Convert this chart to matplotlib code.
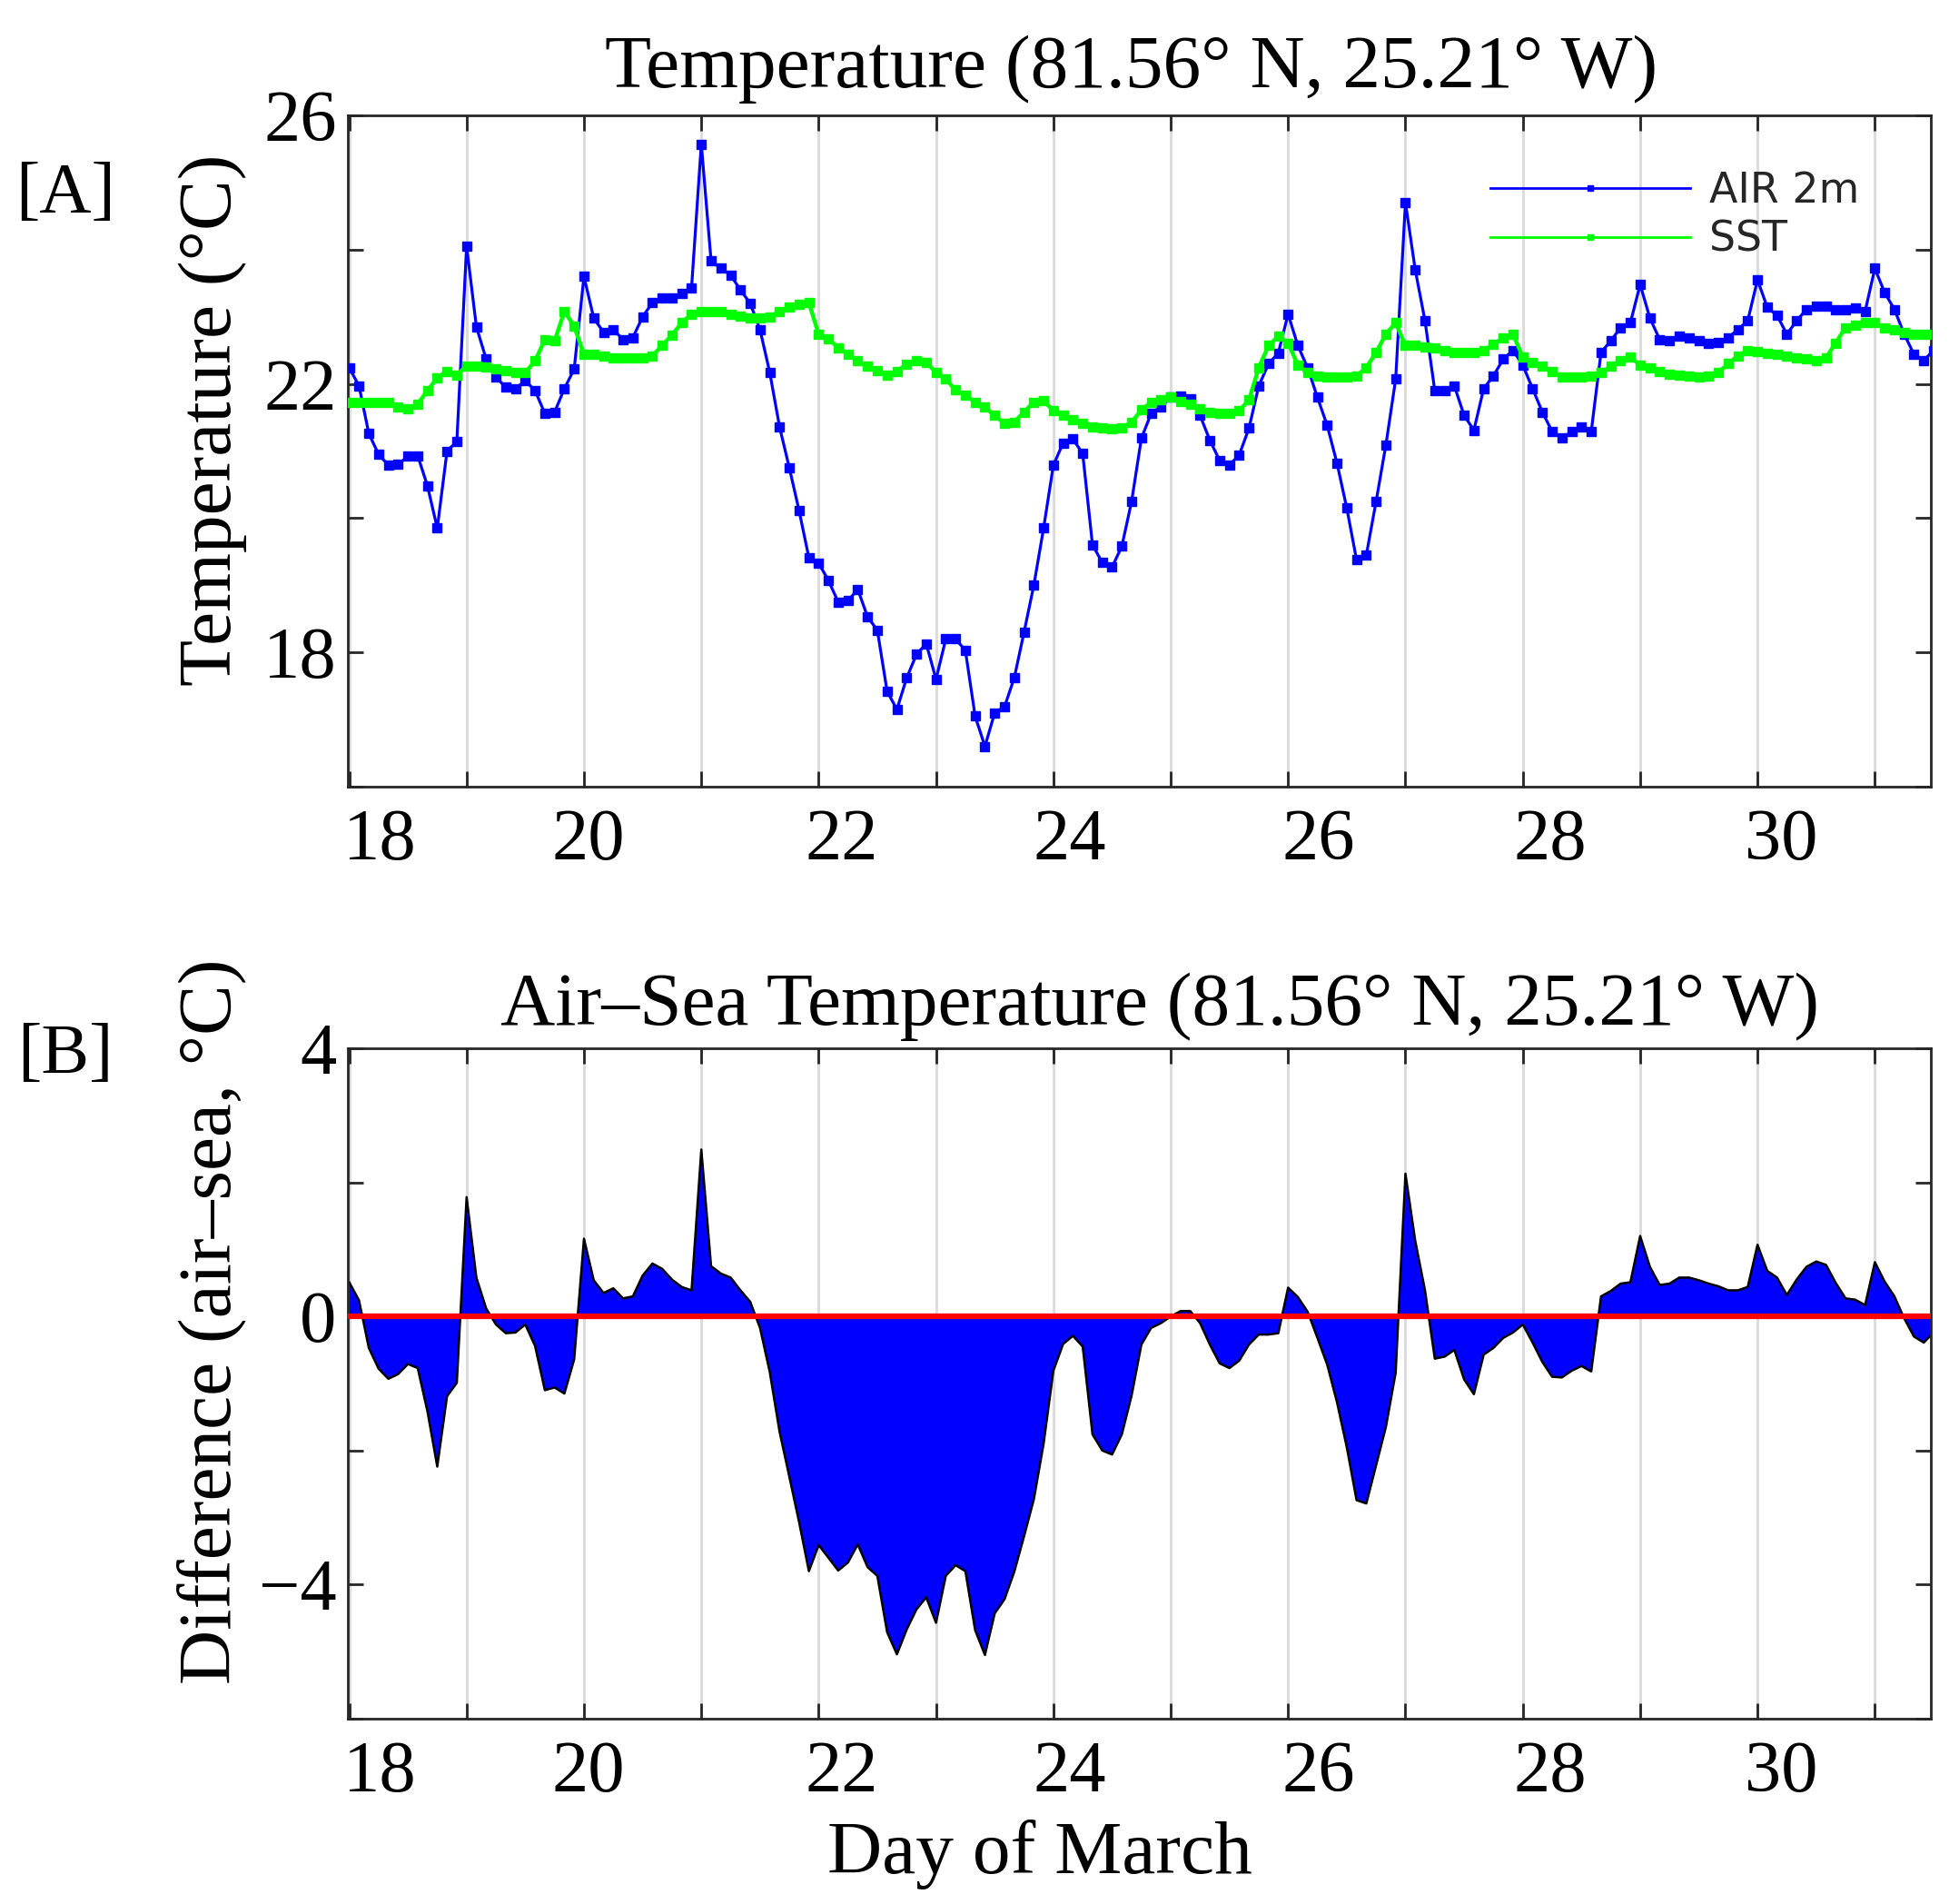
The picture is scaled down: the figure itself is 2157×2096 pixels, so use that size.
import matplotlib
matplotlib.use('Agg')

import matplotlib.pyplot as plt
import matplotlib.transforms as mtransforms
import numpy as np

plt.rcParams['font.family'] = ['Liberation Serif', 'DejaVu Serif']

# Two-hourly samples, starting at day 18.0 of March.
start_day = 18.0
step_days = 2.0 / 24.0

air_2m = [
    22.24, 21.97, 21.26, 20.95, 20.79, 20.80, 20.92, 20.93, 20.48, 19.85, 21.00, 21.14,  # 18
    24.05, 22.85, 22.37, 22.10, 21.95, 21.93, 22.05, 21.90, 21.56, 21.58, 21.93, 22.22,  # 19
    23.60, 22.98, 22.77, 22.81, 22.66, 22.69, 23.00, 23.21, 23.28, 23.28, 23.35, 23.43,  # 20
    25.57, 23.83, 23.72, 23.62, 23.40, 23.20, 22.81, 22.17, 21.36, 20.75, 20.11, 19.41,  # 21
    19.33, 19.07, 18.75, 18.77, 18.94, 18.53, 18.33, 17.42, 17.15, 17.62, 17.97, 18.13,  # 22
    17.60, 18.20, 18.20, 18.03, 17.05, 16.60, 17.10, 17.19, 17.62, 18.30, 19.00, 19.85,  # 23
    20.79, 21.12, 21.18, 20.96, 19.60, 19.34, 19.27, 19.58, 20.25, 21.19, 21.56, 21.66,  # 24
    21.80, 21.82, 21.78, 21.53, 21.16, 20.86, 20.79, 20.94, 21.34, 21.97, 22.30, 22.46,  # 25
    23.04, 22.57, 22.24, 21.80, 21.38, 20.82, 20.15, 19.38, 19.45, 20.25, 21.09, 22.07,  # 26
    24.70, 23.70, 22.94, 21.90, 21.90, 21.97, 21.53, 21.31, 21.93, 22.12, 22.37, 22.50,  # 27
    22.28, 21.93, 21.58, 21.29, 21.19, 21.29, 21.36, 21.29, 22.47, 22.64, 22.84, 22.91,  # 28
    23.48, 22.98, 22.66, 22.64, 22.71, 22.69, 22.64, 22.61, 22.62, 22.69, 22.81, 22.94,  # 29
    23.55, 23.14, 23.02, 22.74, 22.94, 23.11, 23.16, 23.16, 23.11, 23.11, 23.13, 23.08,  # 30
    23.72, 23.36, 23.11, 22.74, 22.44, 22.35, 22.50,                                     # 31
]

sst = [
    21.73, 21.73, 21.73, 21.73, 21.72, 21.66, 21.63, 21.70, 21.90, 22.09, 22.19, 22.13,  # 18
    22.27, 22.27, 22.25, 22.22, 22.20, 22.17, 22.17, 22.34, 22.66, 22.64, 23.08, 22.86,  # 19
    22.44, 22.44, 22.42, 22.39, 22.39, 22.39, 22.39, 22.42, 22.57, 22.73, 22.91, 23.04,  # 20
    23.08, 23.08, 23.08, 23.04, 23.01, 22.98, 22.98, 23.00, 23.08, 23.14, 23.18, 23.21,  # 21
    22.74, 22.67, 22.54, 22.44, 22.34, 22.27, 22.20, 22.13, 22.19, 22.29, 22.34, 22.32,  # 22
    22.17, 22.07, 21.91, 21.83, 21.73, 21.65, 21.53, 21.41, 21.43, 21.58, 21.73, 21.75,  # 23
    21.60, 21.53, 21.47, 21.41, 21.36, 21.34, 21.33, 21.34, 21.43, 21.61, 21.73, 21.76,  # 24
    21.80, 21.74, 21.70, 21.63, 21.58, 21.56, 21.56, 21.60, 21.76, 22.24, 22.57, 22.71,  # 25
    22.61, 22.28, 22.17, 22.12, 22.10, 22.10, 22.10, 22.12, 22.24, 22.47, 22.74, 22.91,  # 26
    22.57, 22.57, 22.55, 22.53, 22.50, 22.47, 22.47, 22.47, 22.50, 22.59, 22.69, 22.74,  # 27
    22.40, 22.32, 22.26, 22.19, 22.10, 22.10, 22.10, 22.11, 22.17, 22.26, 22.35, 22.40,  # 28
    22.28, 22.24, 22.19, 22.15, 22.13, 22.11, 22.10, 22.12, 22.17, 22.30, 22.42, 22.50,  # 29
    22.48, 22.46, 22.44, 22.42, 22.39, 22.37, 22.34, 22.39, 22.61, 22.84, 22.88, 22.91,  # 30
    22.91, 22.84, 22.81, 22.77, 22.74, 22.74, 22.74,                                     # 31
]

day_ticks = list(range(18, 32))
temp_ticks = [16, 18, 20, 22, 24, 26]
temp_labels = ['', '18', '', '22', '', '26']
diff_ticks = [-6, -4, -2, 0, 2, 4]
diff_labels = ['', '\u22124', '', '0', '', '4']

W, H = 2157, 2096
DARK = '#262626'
# small rightward shift (px) of the even-day tick labels, as in the original export
xlabel_nudge_px = {18: 34, 20: 5, 22: 25, 24: 18, 26: 33, 28: 30, 30: 26}


def style_axis(ax, yticks, ylabels, ylim):
    ax.set_xlim(17.988, 31.477)
    ax.set_ylim(*ylim)
    ax.set_xticks(day_ticks)
    ax.set_xticklabels([str(d) if d % 2 == 0 else '' for d in day_ticks])
    ax.set_yticks(yticks)
    ax.set_yticklabels(ylabels)
    ax.grid(True, axis='x', color='#dcdcdc', lw=2.2, zorder=0)
    ax.set_axisbelow(True)
    ax.tick_params(direction='in', length=12, width=2, color=DARK,
                   labelcolor='black', top=True, right=True, labelsize=58)
    ax.tick_params(axis='x', pad=17)
    ax.tick_params(axis='y', pad=9)
    for sp in ax.spines.values():
        sp.set_linewidth(2)
        sp.set_color(DARK)
    fig = ax.figure
    for d, lbl in zip(day_ticks, ax.get_xticklabels()):
        if d in xlabel_nudge_px:
            shift = mtransforms.ScaledTranslation(xlabel_nudge_px[d] / 100.0, 0,
                                                  fig.dpi_scale_trans)
            lbl.set_transform(lbl.get_transform() + shift)


def main():
    days = start_day + step_days * np.arange(len(air_2m))
    air = np.array(air_2m)
    sea = np.array(sst)
    diff = air - sea

    fig = plt.figure(figsize=(W / 100, H / 100), dpi=100)
    ax1 = fig.add_axes([383 / W, 1 - 866 / H, 1743 / W, 739 / H])
    ax2 = fig.add_axes([383 / W, 1 - 1892 / H, 1743 / W, 738 / H])

    # [A] temperatures
    l_air, = ax1.plot(days, air, color='#0000ff', lw=2.3, marker='s', ms=7,
                      mec='#0000ff', label='AIR 2m', zorder=3)
    l_sst, = ax1.plot(days, sea, color='#00ff00', lw=3.2, marker='s', ms=7.5,
                      mec='#00ff00', label='SST', zorder=4)
    style_axis(ax1, temp_ticks, temp_labels, (16, 26))
    leg = ax1.legend(handles=[l_air, l_sst], loc='upper left',
                     bbox_to_anchor=(0.722, 0.918), frameon=False,
                     borderaxespad=0, borderpad=0, handlelength=4.8,
                     handletextpad=0.45, labelspacing=0.2,
                     prop={'family': 'DejaVu Sans', 'size': 33})
    for txt in leg.get_texts():
        txt.set_color(DARK)
    for h in leg.legend_handles:
        h.set_markersize(4)
        h.set_linewidth(2.0)

    # [B] air - sea difference
    ax2.fill_between(days, diff, 0, facecolor='#0000ff', edgecolor='none', zorder=2)
    ax2.plot(days, diff, color='black', lw=1.8, zorder=2.5)
    ax2.axhline(0, color='#ff0000', lw=4.5, zorder=3)
    style_axis(ax2, diff_ticks, diff_labels, (-6, 4))

    # texts
    fig.text(1246 / W, 1 - 96 / H, 'Temperature (81.56\u00b0 N, 25.21\u00b0 W)',
             ha='center', va='baseline', fontsize=60)
    fig.text(1277 / W, 1 - 1128 / H,
             'Air\u2013Sea Temperature (81.56\u00b0 N, 25.21\u00b0 W)',
             ha='center', va='baseline', fontsize=60)
    fig.text(234 / W, 1 - 462 / H, 'Temperature (\u00b0C)', rotation=90,
             ha='center', va='center', fontsize=60)
    fig.text(233 / W, 1 - 1455 / H, 'Difference (air\u2013sea, \u00b0C)', rotation=90,
             ha='center', va='center', fontsize=60)
    fig.text(1145 / W, 1 - 2062 / H, 'Day of March', ha='center', va='baseline',
             fontsize=60)
    fig.text(72 / W, 1 - 214 / H, '[A]', ha='center', va='center', fontsize=57)
    fig.text(72 / W, 1 - 1162 / H, '[B]', ha='center', va='center', fontsize=57)

    fig.savefig('out.png', dpi=100)
    plt.close(fig)


if __name__ == "__main__":
    main()
